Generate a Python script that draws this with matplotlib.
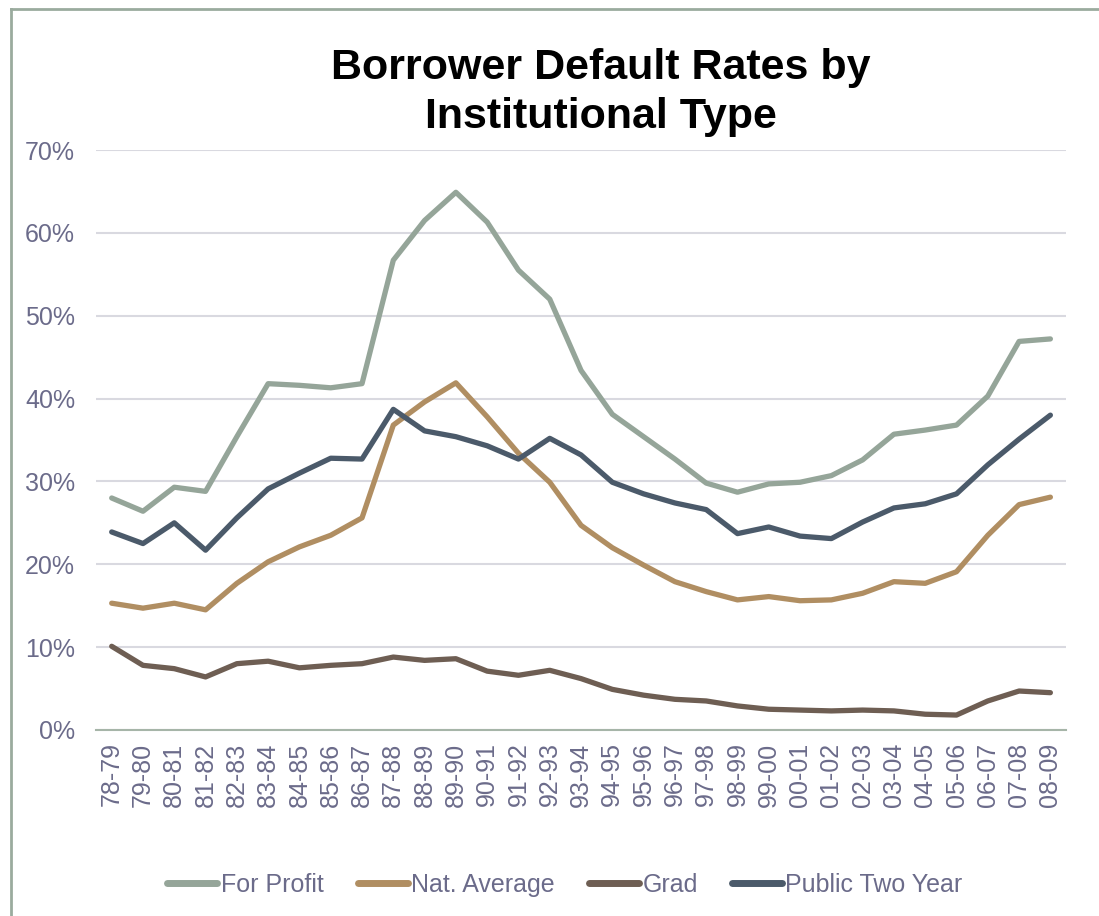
import matplotlib
matplotlib.use("Agg")
import matplotlib.pyplot as plt
from matplotlib.lines import Line2D
from matplotlib.ticker import FuncFormatter

plt.rcParams['font.family'] = ['Liberation Sans', 'DejaVu Sans']

years = ["78-79", "79-80", "80-81", "81-82", "82-83", "83-84", "84-85", "85-86",
         "86-87", "87-88", "88-89", "89-90", "90-91", "91-92", "92-93", "93-94",
         "94-95", "95-96", "96-97", "97-98", "98-99", "99-00", "00-01", "01-02",
         "02-03", "03-04", "04-05", "05-06", "06-07", "07-08", "08-09"]

for_profit = [28.0, 26.4, 29.3, 28.8, 35.4, 41.8, 41.6, 41.3, 41.8, 56.7, 61.5,
              64.9, 61.3, 55.5, 52.0, 43.4, 38.1, 35.4, 32.7, 29.8, 28.7, 29.7,
              29.9, 30.7, 32.6, 35.7, 36.2, 36.8, 40.3, 46.9, 47.2]
nat_average = [15.3, 14.7, 15.3, 14.5, 17.7, 20.3, 22.1, 23.5, 25.6, 36.8, 39.6,
               41.9, 37.8, 33.4, 29.9, 24.7, 22.0, 19.9, 17.9, 16.7, 15.7, 16.1,
               15.6, 15.7, 16.5, 17.9, 17.7, 19.1, 23.5, 27.2, 28.1]
grad = [10.1, 7.8, 7.4, 6.4, 8.0, 8.3, 7.5, 7.8, 8.0, 8.8, 8.4, 8.6, 7.1, 6.6,
        7.2, 6.2, 4.9, 4.2, 3.7, 3.5, 2.9, 2.5, 2.4, 2.3, 2.4, 2.3, 1.9, 1.8,
        3.5, 4.7, 4.5]
public_two_year = [23.9, 22.5, 25.0, 21.7, 25.6, 29.1, 31.0, 32.8, 32.7, 38.7,
                   36.1, 35.4, 34.3, 32.7, 35.2, 33.2, 29.9, 28.5, 27.4, 26.6,
                   23.7, 24.5, 23.4, 23.1, 25.1, 26.8, 27.3, 28.5, 32.0, 35.1, 38.0]

series = [("For Profit", for_profit, "#95a599"),
          ("Nat. Average", nat_average, "#b08e62"),
          ("Grad", grad, "#6e5e53"),
          ("Public Two Year", public_two_year, "#4b5a6a")]

text_col = "#6b6b8a"

fig = plt.figure(figsize=(10.99, 9.16), dpi=100)
ax = fig.add_axes([0.0874, 0.2031, 0.8826, 0.6331])

x = list(range(len(years)))
for name, vals, col in series:
    ax.plot(x, vals, color=col, lw=3.8, label=name,
            solid_capstyle="round", solid_joinstyle="round")

ax.set_xlim(-0.5, len(years) - 0.5)
ax.set_ylim(0, 70)
ax.set_yticks(range(0, 71, 10))
ax.yaxis.set_major_formatter(FuncFormatter(lambda v, p: f"{v:.0f}%"))
ax.set_xticks(x)
ax.set_xticklabels(years, rotation=90)
ax.tick_params(axis="both", length=0, labelsize=18, labelcolor=text_col)
ax.tick_params(axis="y", pad=15)
ax.tick_params(axis="x", pad=9)
ax.grid(axis="y", color="#d9d9e0", lw=1.5)
ax.set_axisbelow(True)
for s in ["top", "right", "left"]:
    ax.spines[s].set_visible(False)
ax.spines["bottom"].set_color("#a6b5a8")
ax.spines["bottom"].set_linewidth(1.5)

fig.text(0.547, 0.899, "Borrower Default Rates by\nInstitutional Type",
         ha="center", va="center", fontsize=31, fontweight="bold",
         linespacing=1.28, color="black")

leg = fig.legend(loc="center", bbox_to_anchor=(0.514, 0.034), ncol=4,
                 frameon=False, fontsize=18, handlelength=2.0,
                 handletextpad=0.15, columnspacing=1.35)
for t in leg.get_texts():
    t.set_color(text_col)
for h in leg.legend_handles:
    h.set_linewidth(5)
    h.set_solid_capstyle("round")

# chart frame lines (left and top)
fig.add_artist(Line2D([11 / 1099, 11 / 1099], [0, 1 - 9 / 916],
                      transform=fig.transFigure, color="#9aab9e", lw=2))
fig.add_artist(Line2D([11 / 1099, 1], [1 - 9 / 916, 1 - 9 / 916],
                      transform=fig.transFigure, color="#9aab9e", lw=2))

fig.savefig("out.png", dpi=100)
